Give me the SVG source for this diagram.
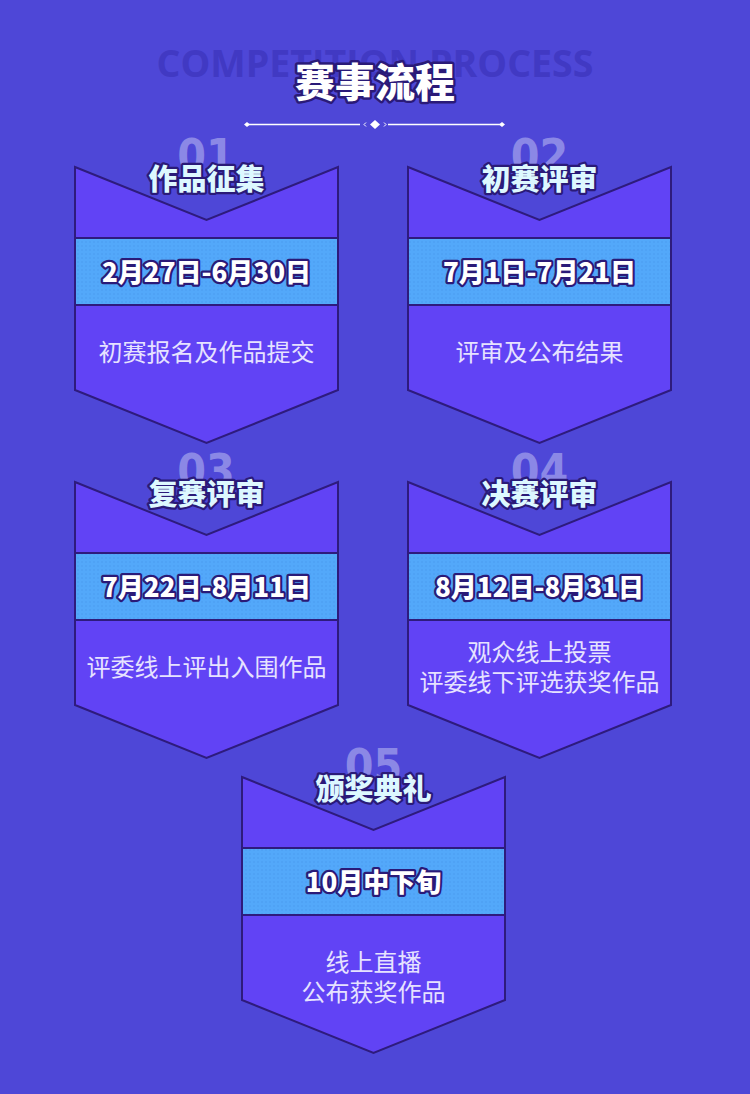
<svg xmlns="http://www.w3.org/2000/svg" width="750" height="1094" viewBox="0 0 750 1094">
  <defs>
    <pattern id="dots" width="4" height="4" patternUnits="userSpaceOnUse">
      <rect width="4" height="4" fill="#53A8FA"/>
      <circle cx="2" cy="2" r="0.8" fill="#4A9BF0"/>
    </pattern>
    <clipPath id="c1"><rect x="0" y="0" width="750" height="167"/></clipPath>
    <clipPath id="c3"><rect x="0" y="300" width="750" height="182"/></clipPath>
    <clipPath id="c5"><rect x="0" y="600" width="750" height="177"/></clipPath>
  </defs>
  <style>
    .card{fill:#6143F5;stroke:#2E1B7D;stroke-width:2;stroke-linejoin:miter}
    .band{fill:url(#dots);stroke:#2E1B7D;stroke-width:2}
    .num{font-family:"DejaVu Sans Condensed","DejaVu Sans",sans-serif;font-weight:bold;font-size:46px;fill:#8B88E6;text-anchor:middle}
    .ttl{font-family:"Noto Sans CJK SC",sans-serif;font-weight:900;font-size:29px;fill:#DDF8FF;stroke:#2A1A78;stroke-width:4.5;paint-order:stroke;stroke-linejoin:round;text-anchor:middle}
    .date{font-family:"Noto Sans CJK SC",sans-serif;font-weight:900;font-size:26px;fill:#FFFFFF;stroke:#2A1A78;stroke-width:4.5;paint-order:stroke;stroke-linejoin:round;text-anchor:middle}
    .desc{font-family:"Noto Sans CJK SC",sans-serif;font-size:24px;fill:#E6E2FF;text-anchor:middle}
  </style>
  <rect width="750" height="1094" fill="#4E47D7"/>

  <g id="header">
    <text x="375" y="77" font-family="'Open Sans','Liberation Sans',sans-serif" font-weight="bold" font-size="38" fill="#4139C3" text-anchor="middle" textLength="437" lengthAdjust="spacingAndGlyphs">COMPETITION PROCESS</text>
    <text x="375" y="97" font-family="'Noto Sans CJK SC',sans-serif" font-weight="900" font-size="40" fill="#FFFFFF" stroke="#2A1A78" stroke-width="5" paint-order="stroke" stroke-linejoin="round" text-anchor="middle">赛事流程</text>
    <g fill="#FFFFFF" stroke="#FFFFFF">
      <line x1="247" y1="124.5" x2="360" y2="124.5" stroke-width="1.3"/>
      <line x1="388" y1="124.5" x2="502" y2="124.5" stroke-width="1.3"/>
      <path d="M244 124.5 L247 122 L250 124.5 L247 127 Z" stroke="none"/>
      <path d="M499 124.5 L502 122 L505 124.5 L502 127 Z" stroke="none"/>
      <path d="M370 124.5 L375 120 L380 124.5 L375 129 Z" stroke="none"/>
      <polyline points="366,122.5 364,124.5 366,126.5" fill="none" stroke-width="1"/>
      <polyline points="384,122.5 386,124.5 384,126.5" fill="none" stroke-width="1"/>
    </g>
  </g>

  <g id="step1">
    <text class="num" x="206" y="172" clip-path="url(#c1)">01</text>
    <polygon class="card" points="75,167 206.5,220 338,167 338,390 206.5,443 75,390"/>
    <rect class="band" x="75" y="238" width="263" height="67"/>
    <text class="ttl" x="206.5" y="190">作品征集</text>
    <text class="date" x="206.5" y="282">2月27日-6月30日</text>
    <text class="desc" x="206.5" y="361">初赛报名及作品提交</text>
  </g>

  <g id="step2">
    <text class="num" x="539.5" y="172" clip-path="url(#c1)">02</text>
    <polygon class="card" points="408,167 539.5,220 671,167 671,390 539.5,443 408,390"/>
    <rect class="band" x="408" y="238" width="263" height="67"/>
    <text class="ttl" x="539.5" y="190">初赛评审</text>
    <text class="date" x="539.5" y="282">7月1日-7月21日</text>
    <text class="desc" x="539.5" y="361">评审及公布结果</text>
  </g>

  <g id="step3">
    <text class="num" x="206" y="487" clip-path="url(#c3)">03</text>
    <polygon class="card" points="75,482 206.5,535 338,482 338,705 206.5,758 75,705"/>
    <rect class="band" x="75" y="553" width="263" height="67"/>
    <text class="ttl" x="206.5" y="505">复赛评审</text>
    <text class="date" x="206.5" y="597">7月22日-8月11日</text>
    <text class="desc" x="206.5" y="676">评委线上评出入围作品</text>
  </g>

  <g id="step4">
    <text class="num" x="539.5" y="487" clip-path="url(#c3)">04</text>
    <polygon class="card" points="408,482 539.5,535 671,482 671,705 539.5,758 408,705"/>
    <rect class="band" x="408" y="553" width="263" height="67"/>
    <text class="ttl" x="539.5" y="505">决赛评审</text>
    <text class="date" x="539.5" y="597">8月12日-8月31日</text>
    <text class="desc" x="539.5" y="661">观众线上投票</text>
    <text class="desc" x="539.5" y="691">评委线下评选获奖作品</text>
  </g>

  <g id="step5">
    <text class="num" x="373.5" y="782" clip-path="url(#c5)">05</text>
    <polygon class="card" points="242,777 373.5,830 505,777 505,1000 373.5,1053 242,1000"/>
    <rect class="band" x="242" y="848" width="263" height="67"/>
    <text class="ttl" x="373.5" y="800">颁奖典礼</text>
    <text class="date" x="373.5" y="892">10月中下旬</text>
    <text class="desc" x="373.5" y="971">线上直播</text>
    <text class="desc" x="373.5" y="1001">公布获奖作品</text>
  </g>
</svg>
